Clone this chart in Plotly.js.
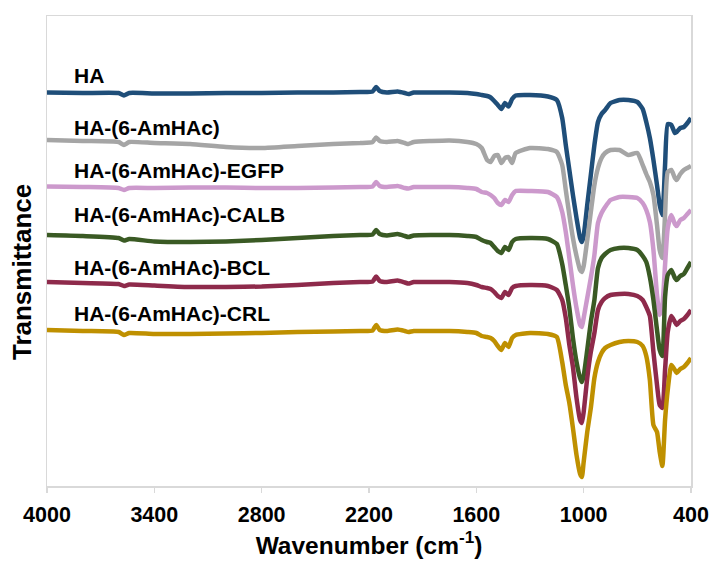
<!DOCTYPE html>
<html>
<head>
<meta charset="utf-8">
<script src="https://cdn.plot.ly/plotly-3.0.1.min.js"></script>
<style>
  html, body { margin: 0; padding: 0; background: #ffffff; }
  #chart { width: 709px; height: 562px; }
</style>
</head>
<body>
<div id="chart"></div>
<script>
// Wavenumber (cm-1) sampling points shared by all spectra
const wavenumber = [4000,3800,3600,3570,3540,3400,3200,3000,2800,2600,2400,2250,2180,2160,2140,2100,2040,2000,1980,1950,1850,1750,1650,1600,1570,1540,1520,1500,1480,1460,1440,1420,1400,1380,1300,1200,1150,1120,1100,1080,1060,1040,1020,1010,1000,980,960,940,920,900,880,850,800,750,700,670,650,630,610,590,575,560,545,530,510,490,480,460,440,420,400];

// Offset transmittance (a.u.)
const tHA = [407.5,407,407,404.5,407, 406.5,406.5,407,407,407.5, 407.5,408,408.5,413,409, 407.5,408.5,407,406,407.5, 407.5,407.5,407,406,405, 404,402.5,399,395,391, 397,393.5,401,404.5,405, 403.5,400,382,355,330, 305,282,262,258,264, 295,325,355,378,386, 390,397,400,400,398, 391,378,362,340,315, 295,285,335,376,375, 367,368,372,373,377, 382];
const tAmHAc = [360,359,358,355,358, 357,356,353,352,354, 356,357,358,362.5,359, 358,359,357,356,358, 359,359.5,358,356,352, 340,338,344,345,337, 342,343,337,347,352, 351,348,335,310,285, 262,244,230,228,234, 260,288,315,332,342, 347,350,350,345,347, 335,326,318,305,275, 250,242,285,328,330, 322,320,326,330,332, 334];
const tEGFP = [313.5,313,312,310,312, 312,312.5,312.5,312,312, 312.5,313,313.5,318,314, 313,314,312,311.5,313, 313,313,312,311,308, 307,305,302,297,295, 300,298,305,309,309, 308,303,288,268,242, 215,192,175,173,182, 202,222,245,277,287, 293,300,303,303,302, 297,290,278,250,205, 185,195,235,272,285, 276,274,280,282,286, 290];
const tCALB = [265,264,262,259.5,261, 258.5,258,258.5,260,262, 264,265,265.5,270,266, 264.5,266,264,263,264.5, 265,265,264,263,260, 258,257,253,249,247, 253,250,258,261,262, 261,256,236,215,192, 162,138,122,118,124, 150,178,200,232,242, 246,250,252,252,250, 244,238,223,200,170, 150,144,203,225,230, 222,220,224,226,232, 238];
const tBCL = [218,217,216,214,215.5, 214.5,213,213,213.5,215, 217,218,218.5,223.5,219, 218,219.5,217.5,216.5,218, 218,218,217,215,213, 212,211,208,204,202, 208,205,212,214,215, 214,210,200,182,155, 133,102,80,77,88, 122,148,167,190,198, 202,205,206,206,204, 200,193,184,148,115, 95,92,130,168,184, 178,175,179,181,185, 190];
const tCRL = [170,169,168,165,167, 166,166,166.5,167,168, 168.5,169,169.5,175,170, 169,170.5,169,168,169, 169,169,168,167,164, 163,162,159,154,150, 157,153,162,165,167, 166,163,138,115,97, 72,45,26,23,38, 68,92,122,138,147, 152,155,158,159,158, 154,144,120,75,68, 48,34,80,110,135, 130,127,131,133,137, 142];

const seriesNames = ["HA","HA-(6-AmHAc)","HA-(6-AmHAc)-EGFP","HA-(6-AmHAc)-CALB","HA-(6-AmHAc)-BCL","HA-(6-AmHAc)-CRL"];
const seriesValues = [tHA, tAmHAc, tEGFP, tCALB, tBCL, tCRL];
const seriesColors = ["#1f4e79","#a5a5a5","#cc99cc","#3a5a24","#8e2a4b","#bf9000"];
// label anchor (wavenumber, transmittance) for each series name
const labelWavenumber = 3860;
const labelLevels = [425, 373, 330, 286, 233, 187];

const xTicks = [4000,3400,2800,2200,1600,1000,400];
const xTitle = "Wavenumber (cm<sup>-1</sup>)";
const yTitle = "Transmittance";

const fontFam = "Arial, 'Liberation Sans', Helvetica, sans-serif";

const traces = seriesNames.map((n, i) => ({
  type: "scatter",
  mode: "lines",
  name: n,
  x: wavenumber,
  y: seriesValues[i],
  line: { color: seriesColors[i], width: 4.5, shape: "spline", smoothing: 0.5 },
  hoverinfo: "x+y+name"
}));

const annotations = seriesNames.map((n, i) => ({
  x: labelWavenumber, y: labelLevels[i], xref: "x", yref: "y",
  text: n, showarrow: false, xanchor: "left", yanchor: "middle",
  font: { family: fontFam, size: 21, color: "#000000", weight: "bold" }
}));
// y-axis title drawn as a rotated annotation (placed slightly below plot centre as in the reference)
annotations.push({
  x: -0.039, y: 0.455, xref: "paper", yref: "paper",
  text: yTitle, showarrow: false, textangle: -90,
  xanchor: "center", yanchor: "middle",
  font: { family: fontFam, size: 26, color: "#000000", weight: "bold" }
});

const layout = {
  width: 709, height: 562,
  margin: { l: 47, r: 18, t: 16, b: 76 },
  paper_bgcolor: "#ffffff", plot_bgcolor: "#ffffff",
  showlegend: false,
  xaxis: {
    range: [4000, 400],
    tickvals: xTicks, ticktext: xTicks.map(String),
    ticks: "outside", ticklen: 5, tickcolor: "#d9d9d9", tickwidth: 1.5,
    ticklabelstandoff: 4,
    ticklabeloverflow: "allow",
    showline: true, linecolor: "#d9d9d9", linewidth: 1.5, mirror: true,
    showgrid: false, zeroline: false,
    tickfont: { family: fontFam, size: 21.5, color: "#000000", weight: "bold" },
    title: { text: xTitle, standoff: 9,
             font: { family: fontFam, size: 24.5, color: "#000000", weight: "bold" } }
  },
  yaxis: {
    range: [14, 484],
    showticklabels: false, ticks: "",
    showline: true, linecolor: "#d9d9d9", linewidth: 1.5, mirror: true,
    showgrid: false, zeroline: false
  },
  annotations: annotations
};

Plotly.newPlot("chart", traces, layout, { displayModeBar: false, staticPlot: true });
</script>
</body>
</html>
